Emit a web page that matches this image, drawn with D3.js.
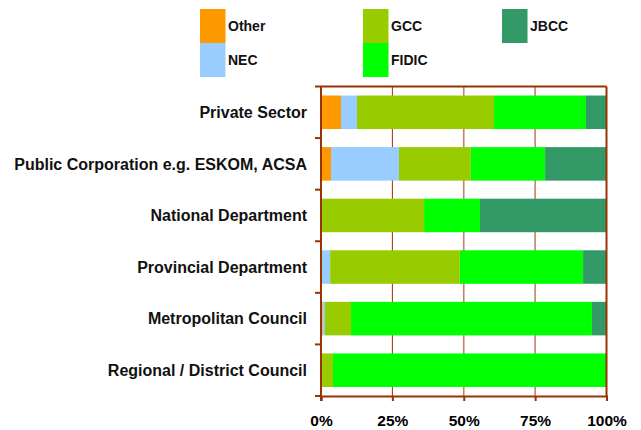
<!DOCTYPE html>
<html><head><meta charset="utf-8">
<script src="https://cdn.jsdelivr.net/npm/d3@7"></script>
<style>html,body{margin:0;padding:0;background:#fff;}svg{display:block;font-family:"Liberation Sans",Arial,sans-serif;}</style>
</head><body>
<svg id="chart" width="641" height="430"></svg>
<script>
const categories = ["Private Sector","Public Corporation e.g. ESKOM, ACSA","National Department","Provincial Department","Metropolitan Council","Regional / District Council"];
const seriesNames = ["Other","NEC","GCC","FIDIC","JBCC"];
const seriesColors = ["#FF9900","#99CCFF","#99CC00","#00FF00","#339966"];
const otherVals = [7.0, 3.5, 0, 0, 0.6, 0];
const necVals   = [5.6, 23.8, 0, 3.2, 0.8, 0];
const gccVals   = [48.0, 25.2, 36.1, 45.4, 9.1, 4.2];
const fidicVals = [32.2, 26.0, 19.6, 43.2, 84.4, 95.8];
const jbccVals  = [7.2, 21.5, 44.3, 8.2, 5.1, 0];
const xTicks = [0, 25, 50, 75, 100];
const xTickLabels = ["0%","25%","50%","75%","100%"];

const rows = categories.map((c,i)=>({cat:c, Other:otherVals[i], NEC:necVals[i], GCC:gccVals[i], FIDIC:fidicVals[i], JBCC:jbccVals[i]}));
rows.forEach(r=>{const t=seriesNames.reduce((s,k)=>s+r[k],0); seriesNames.forEach(k=>r[k]=r[k]/t*100);});

const svg = d3.select("#chart");
const L=321, R=606.5, T=86.5, B=396;
const x = d3.scaleLinear().domain([0,100]).range([L,R]);
const y = d3.scaleBand().domain(categories).range([T,B]).paddingInner(0.35).paddingOuter(0.175);
const color = d3.scaleOrdinal().domain(seriesNames).range(seriesColors);
const axisColor = "#993300";

// gridlines
svg.append("g").selectAll("line").data([25,50,75]).join("line")
  .attr("x1",d=>x(d)).attr("x2",d=>x(d)).attr("y1",T).attr("y2",B)
  .attr("stroke",axisColor).attr("stroke-width",d=>d===25?1:1.6).attr("stroke-opacity",d=>d===25?1:0.6);

const stacked = d3.stack().keys(seriesNames)(rows);
svg.append("g").selectAll("g").data(stacked).join("g").attr("fill",d=>color(d.key))
  .selectAll("rect").data(d=>d).join("rect")
  .attr("x",d=>x(d[0])).attr("width",d=>x(d[1])-x(d[0]))
  .attr("y",d=>y(d.data.cat)).attr("height",y.bandwidth());

// border top & right
svg.append("line").attr("x1",L).attr("x2",R).attr("y1",T).attr("y2",T).attr("stroke",axisColor).attr("stroke-width",2);
svg.append("line").attr("x1",R).attr("x2",R).attr("y1",T).attr("y2",B).attr("stroke",axisColor).attr("stroke-width",2);

// x axis
const xAxis = d3.axisBottom(x).tickValues(xTicks).tickFormat((d,i)=>xTickLabels[i]).tickSize(5).tickPadding(14);
const gx = svg.append("g").attr("transform",`translate(0,${B})`).call(xAxis);
gx.select(".domain").attr("stroke",axisColor).attr("stroke-width",2);
gx.selectAll(".tick line").attr("stroke",axisColor).attr("stroke-width",2);
gx.selectAll(".tick text").attr("fill","#000").style("font-size","15.5px").style("font-weight","bold").attr("font-family","Liberation Sans, Arial, sans-serif");

// y axis with ticks at band boundaries
const gy = svg.append("g");
gy.append("line").attr("x1",L).attr("x2",L).attr("y1",T).attr("y2",B+5).attr("stroke",axisColor).attr("stroke-width",2);
const step = (B-T)/categories.length;
gy.selectAll("line.tk").data(d3.range(categories.length+1)).join("line").attr("class","tk")
  .attr("x1",L-6).attr("x2",L).attr("y1",i=>T+i*step).attr("y2",i=>T+i*step)
  .attr("stroke",axisColor).attr("stroke-width",2);
gy.selectAll("text").data(categories).join("text")
  .attr("x",307).attr("y",d=>y(d)+y.bandwidth()/2).attr("dy","0.36em")
  .attr("text-anchor","end").style("font-size","16px").style("font-weight","bold").attr("fill","#111")
  .text(d=>d);

// legend
const legendPos = [[200,9],[200,43],[363,9],[363,43],[502,9]];
const lg = svg.append("g").selectAll("g").data(seriesNames).join("g")
  .attr("transform",(d,i)=>`translate(${legendPos[i][0]},${legendPos[i][1]})`);
lg.append("rect").attr("width",25.5).attr("height",34).attr("fill",d=>color(d));
lg.append("text").attr("x",28).attr("y",17).attr("dy","0.36em").style("font-size","14px").style("font-weight","bold").attr("fill","#111").text(d=>d);
</script>
</body></html>
